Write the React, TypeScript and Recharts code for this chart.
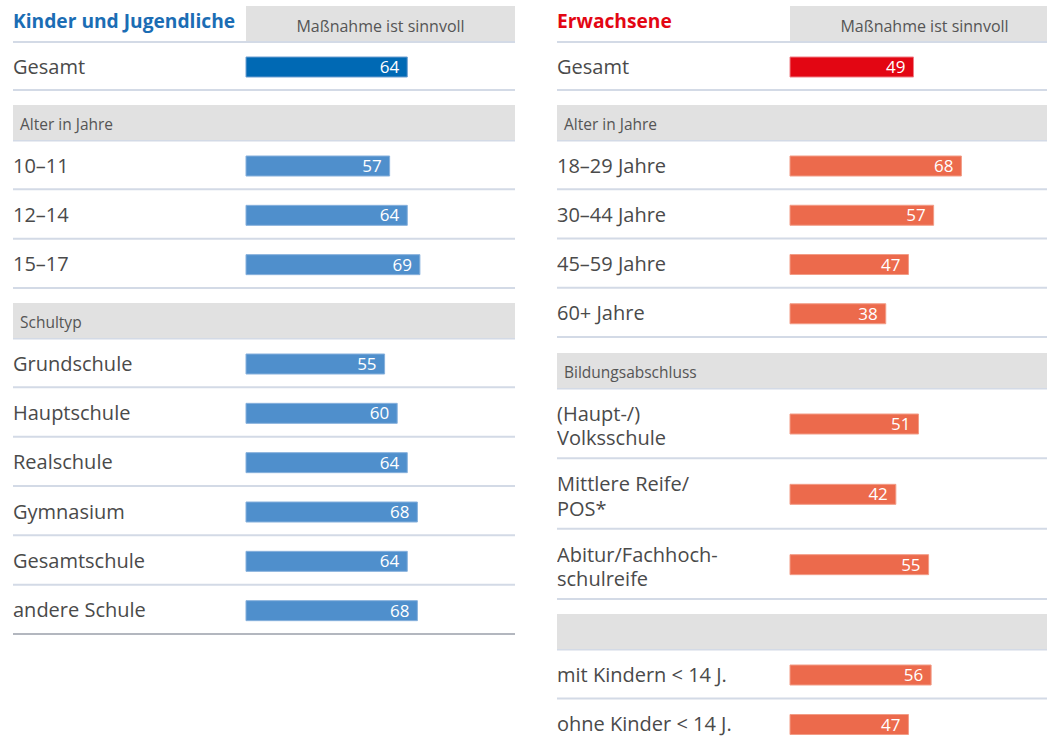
import React from "react";
import { BarChart, Bar, XAxis, YAxis, LabelList } from "recharts";

// ---------- data ----------
const kidsTotalLabels = ["Gesamt"];
const kidsTotalValues = [64];
const kidsAgeLabels = ["10–11", "12–14", "15–17"];
const kidsAgeValues = [57, 64, 69];
const kidsSchoolLabels = ["Grundschule", "Hauptschule", "Realschule", "Gymnasium", "Gesamtschule", "andere Schule"];
const kidsSchoolValues = [55, 60, 64, 68, 64, 68];

const adultTotalLabels = ["Gesamt"];
const adultTotalValues = [49];
const adultAgeLabels = ["18–29 Jahre", "30–44 Jahre", "45–59 Jahre", "60+ Jahre"];
const adultAgeValues = [68, 57, 47, 38];
const adultEduLabels = ["(Haupt-/)\nVolksschule", "Mittlere Reife/\nPOS*", "Abitur/Fachhoch-\nschulreife"];
const adultEduValues = [51, 42, 55];
const adultKidsLabels = ["mit Kindern < 14 J.", "ohne Kinder < 14 J."];
const adultKidsValues = [56, 47];

const panelTitles = ["Kinder und Jugendliche", "Erwachsene"];
const headerText = "Maßnahme ist sinnvoll";
const kidsBands = ["Alter in Jahre", "Schultyp"];
const adultBands = ["Alter in Jahre", "Bildungsabschluss", ""];

// ---------- styling ----------
const FONT = "'Open Sans', 'Noto Sans', sans-serif";
const PANEL_W = 502;
const AXIS_W = 233;
const LINE_COLOR = "#d3dae6";
const BAND_COLOR = "#e1e1e1";
const TEXT_COLOR = "#4a4a4a";

type SectionProps = {
  labels: string[];
  values: number[];
  left: number;
  top: number;
  rowH: number;
  fill: string;
  stroke: string;
  lastDark?: boolean;
};

function Section({ labels, values, left, top, rowH, fill, stroke, lastDark }: SectionProps) {
  const data = labels.map((label, i) => ({ label, value: values[i] }));
  const height = Math.round(rowH * labels.length);
  const n = labels.length;
  const RowTick = (props: any) => {
    const { y, payload, index } = props;
    const lines = String(payload.value).split("\n");
    const lineY = y + rowH / 2 - 1;
    const dark = lastDark && index === n - 1;
    const shift = lines.length > 1 ? 2 : 0;
    return (
      <g>
        {lines.map((ln, k) => (
          <text
            key={k}
            x={0}
            y={y + 7 + shift + (k - (lines.length - 1) / 2) * 24.5}
            fill={TEXT_COLOR}
            fontSize={20}
            fontFamily={FONT}
            textAnchor="start"
          >
            {ln}
          </text>
        ))}
        <line x1={0} x2={PANEL_W} y1={lineY} y2={lineY} stroke={dark ? "#b3b7bf" : LINE_COLOR} strokeWidth={2} />
      </g>
    );
  };
  return (
    <div style={{ position: "absolute", left, top, width: PANEL_W, height }}>
      <BarChart
        width={PANEL_W}
        height={height}
        data={data}
        layout="vertical"
        margin={{ top: 0, right: 17, bottom: 0, left: 0 }}
        barCategoryGap={0}
      >
        <XAxis type="number" domain={[0, 100]} hide />
        <YAxis
          type="category"
          dataKey="label"
          width={AXIS_W}
          axisLine={false}
          tickLine={false}
          interval={0}
          tick={RowTick}
        />
        <Bar dataKey="value" fill={fill} stroke={stroke} strokeWidth={1} barSize={20} isAnimationActive={false}>
          <LabelList dataKey="value" position="insideRight" offset={8} fill="#ffffff" fontSize={17} fontFamily={FONT} />
        </Bar>
      </BarChart>
    </div>
  );
}

function Decorations() {
  const panels = [
    { x0: 13, title: panelTitles[0], color: "#1b6db4", bands: [{ y: 105, t: kidsBands[0] }, { y: 303, t: kidsBands[1] }] },
    {
      x0: 557,
      title: panelTitles[1],
      color: "#e30613",
      bands: [{ y: 105, t: adultBands[0] }, { y: 353, t: adultBands[1] }, { y: 614, t: adultBands[2] }],
    },
  ];
  return (
    <svg width={1047} height={744} style={{ position: "absolute", left: 0, top: 0 }}>
      {panels.map((p, i) => (
        <g key={i}>
          <text x={p.x0} y={28} fill={p.color} fontSize={19.2} fontWeight={700} fontFamily={FONT}>
            {p.title}
          </text>
          <rect x={p.x0 + AXIS_W} y={6} width={PANEL_W - AXIS_W} height={35} fill={BAND_COLOR} />
          <text
            x={p.x0 + AXIS_W + (PANEL_W - AXIS_W) / 2}
            y={31.5}
            fill="#555"
            fontSize={16}
            fontFamily={FONT}
            textAnchor="middle"
          >
            {headerText}
          </text>
          <rect x={p.x0} y={41} width={PANEL_W} height={2} fill={LINE_COLOR} />
          {p.bands.map((b, k) => (
            <g key={k}>
              <rect x={p.x0} y={b.y} width={PANEL_W} height={36} fill={BAND_COLOR} />
              <rect x={p.x0} y={b.y + 35} width={PANEL_W} height={1.5} fill={LINE_COLOR} />
              <text x={p.x0 + 7} y={b.y + 24.5} fill="#555" fontSize={15.5} fontFamily={FONT}>
                {b.t}
              </text>
            </g>
          ))}
        </g>
      ))}
    </svg>
  );
}

export default function App() {
  const ROW = 148 / 3;
  const blueDark = "#0069b4";
  const blue = "#4f8fcc";
  const redDark = "#e30613";
  const red = "#ec6a4c";
  return (
    <div
      style={{
        position: "absolute",
        left: 0,
        top: 0,
        width: 1047,
        height: 744,
        overflow: "hidden",
        background: "#ffffff",
        fontFamily: FONT,
      }}
    >
      <Decorations />
      <Section labels={kidsTotalLabels} values={kidsTotalValues} left={13} top={43} rowH={48} fill={blueDark} stroke="#6f9fd0" />
      <Section labels={kidsAgeLabels} values={kidsAgeValues} left={13} top={141} rowH={ROW} fill={blue} stroke="#86b0dc" />
      <Section labels={kidsSchoolLabels} values={kidsSchoolValues} left={13} top={339} rowH={ROW} fill={blue} stroke="#86b0dc" lastDark />

      <Section labels={adultTotalLabels} values={adultTotalValues} left={557} top={43} rowH={48} fill={redDark} stroke="#ef7f86" />
      <Section labels={adultAgeLabels} values={adultAgeValues} left={557} top={141} rowH={ROW} fill={red} stroke="#f29c86" />
      <Section labels={adultEduLabels} values={adultEduValues} left={557} top={389} rowH={211 / 3} fill={red} stroke="#f29c86" />
      <Section labels={adultKidsLabels} values={adultKidsValues} left={557} top={650} rowH={ROW} fill={red} stroke="#f29c86" />
    </div>
  );
}
